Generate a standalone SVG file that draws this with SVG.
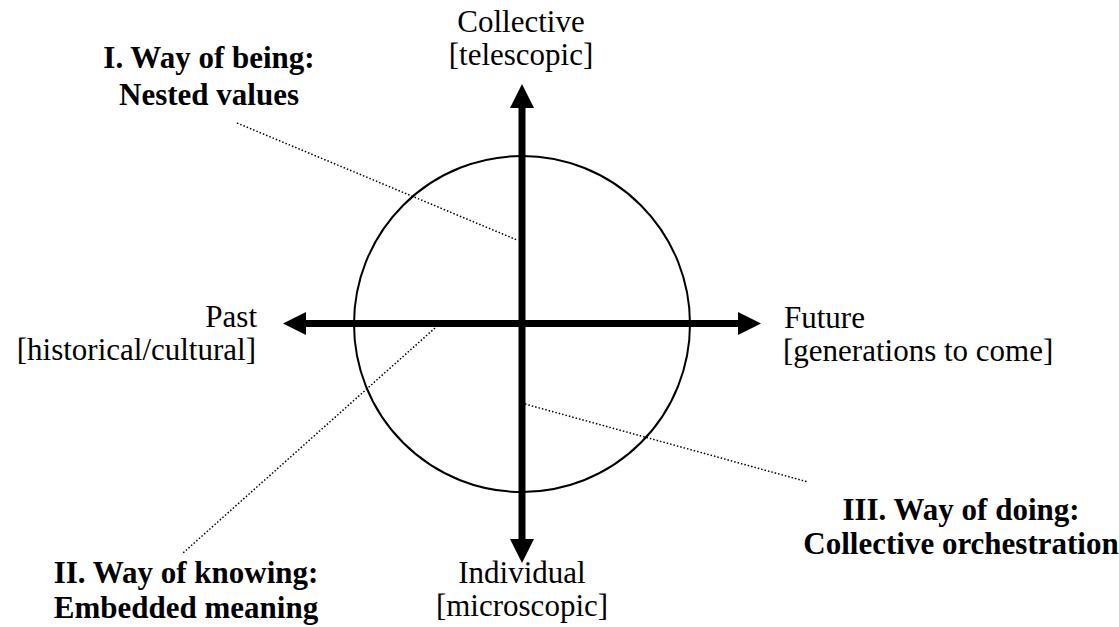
<svg xmlns="http://www.w3.org/2000/svg" width="1119" height="627" viewBox="0 0 1119 627">
<style>
text{font-family:"Liberation Serif","Times New Roman",serif;fill:#000}
.t{font-size:31px;font-weight:400}
.b{font-size:31px;font-weight:700}
.ax{stroke:#000;stroke-width:7;fill:none}
.dot{stroke:#000;stroke-width:1.5;stroke-dasharray:1.5 2;fill:none}
</style>
<rect width="1119" height="627" fill="#fff"/>
<g id="circle"><circle cx="522" cy="324" r="168" fill="none" stroke="#000" stroke-width="2"/></g>
<g id="connectors">
<line class="ax" x1="522" y1="105" x2="522" y2="541"/>
<polygon points="522,84 510,108 534,108"/>
<polygon points="522,563 510,539 534,539"/>
<line class="ax" x1="304" y1="323.5" x2="740" y2="323.5"/>
<polygon points="283,323.5 306,312 306,335"/>
<polygon points="761,323.5 738,312 738,335"/>
<line class="dot" x1="237" y1="123" x2="517" y2="240"/>
<line class="dot" x1="435" y1="328" x2="183" y2="553"/>
<line class="dot" x1="525" y1="404" x2="808" y2="482"/>
</g>
<g id="top"><text class="t" x="521" y="32" text-anchor="middle">Collective</text><text class="t" x="521" y="65" text-anchor="middle">[telescopic]</text></g>
<g id="bottom"><text class="t" x="522" y="583" text-anchor="middle">Individual</text><text class="t" x="522" y="616" text-anchor="middle">[microscopic]</text></g>
<g id="left"><text class="t" x="257" y="327" text-anchor="end">Past</text><text class="t" x="256" y="360" text-anchor="end">[historical/cultural]</text></g>
<g id="right"><text class="t" x="784" y="328">Future</text><text class="t" x="783" y="361">[generations to come]</text></g>
<g id="being"><text class="b" x="209" y="68" text-anchor="middle">I. Way of being:</text><text class="b" x="209" y="105" text-anchor="middle">Nested values</text></g>
<g id="knowing"><text class="b" x="186" y="583" text-anchor="middle">II. Way of knowing:</text><text class="b" x="186" y="618" text-anchor="middle">Embedded meaning</text></g>
<g id="doing"><text class="b" x="961" y="520" text-anchor="middle">III. Way of doing:</text><text class="b" x="961" y="554" text-anchor="middle">Collective orchestration</text></g>
</svg>
